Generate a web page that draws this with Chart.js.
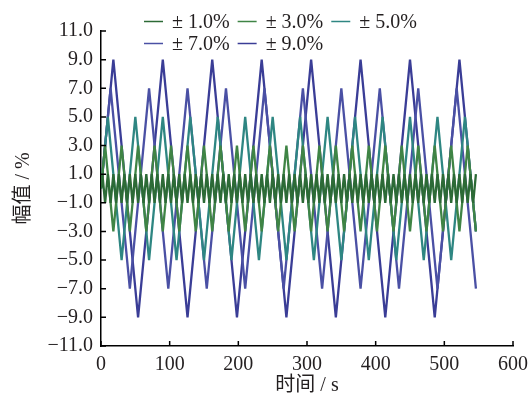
<!DOCTYPE html>
<html>
<head>
<meta charset="utf-8">
<script src="https://cdn.jsdelivr.net/npm/chart.js@4/dist/chart.umd.min.js"></script>
<style>
  html, body { margin: 0; padding: 0; background: #fff; }
</style>
</head>
<body>
<canvas id="chart" width="530" height="402"></canvas>
<script>
// series names and colours
const seriesNames = ['± 1.0%', '± 3.0%', '± 5.0%', '± 7.0%', '± 9.0%'];
const seriesColors = ['#2c6a36', '#3f8445', '#2e8682', '#4a50a4', '#3a3d96'];

// turning points of each triangle wave (time in s, amplitude in %)
const t1 = [0, 2, 6, 10, 14, 18, 22, 26, 30, 34, 38, 42, 46, 50, 54, 58, 62, 66, 70, 74, 78, 82, 86, 90, 94, 98,
  102, 106, 110, 114, 118, 122, 126, 130, 134, 138, 142, 146, 150, 154, 158, 162, 166, 170, 174, 178, 182, 186, 190, 194, 198,
  202, 206, 210, 214, 218, 222, 226, 230, 234, 238, 242, 246, 250, 254, 258, 262, 266, 270, 274, 278, 282, 286, 290, 294, 298,
  302, 306, 310, 314, 318, 322, 326, 330, 334, 338, 342, 346, 350, 354, 358, 362, 366, 370, 374, 378, 382, 386, 390, 394, 398,
  402, 406, 410, 414, 418, 422, 426, 430, 434, 438, 442, 446, 450, 454, 458, 462, 466, 470, 474, 478, 482, 486, 490, 494, 498,
  502, 506, 510, 514, 518, 522, 526, 530, 534, 538, 542, 546];
const v1 = [0, 1, -1, 1, -1, 1, -1, 1, -1, 1, -1, 1, -1, 1, -1, 1, -1, 1, -1, 1, -1, 1, -1, 1, -1, 1,
  -1, 1, -1, 1, -1, 1, -1, 1, -1, 1, -1, 1, -1, 1, -1, 1, -1, 1, -1, 1, -1, 1, -1, 1, -1,
  1, -1, 1, -1, 1, -1, 1, -1, 1, -1, 1, -1, 1, -1, 1, -1, 1, -1, 1, -1, 1, -1, 1, -1, 1,
  -1, 1, -1, 1, -1, 1, -1, 1, -1, 1, -1, 1, -1, 1, -1, 1, -1, 1, -1, 1, -1, 1, -1, 1, -1,
  1, -1, 1, -1, 1, -1, 1, -1, 1, -1, 1, -1, 1, -1, 1, -1, 1, -1, 1, -1, 1, -1, 1, -1, 1,
  -1, 1, -1, 1, -1, 1, -1, 1, -1, 1, -1, 1];

const t3 = [0, 6, 18, 30, 42, 54, 66, 78, 90, 102, 114, 126, 138, 150, 162, 174, 186, 198, 210, 222, 234, 246,
  258, 270, 282, 294, 306, 318, 330, 342, 354, 366, 378, 390, 402, 414, 426, 438, 450, 462, 474, 486, 498, 510, 522, 534, 546];
const v3 = [0, 3, -3, 3, -3, 3, -3, 3, -3, 3, -3, 3, -3, 3, -3, 3, -3, 3, -3, 3, -3, 3,
  -3, 3, -3, 3, -3, 3, -3, 3, -3, 3, -3, 3, -3, 3, -3, 3, -3, 3, -3, 3, -3, 3, -3, 3, -3];

const t5 = [0, 10, 30, 50, 70, 90, 110, 130, 150, 170, 190, 210, 230, 250, 270, 290, 310, 330, 350, 370, 390,
  410, 430, 450, 470, 490, 510, 530, 546];
const v5 = [0, 5, -5, 5, -5, 5, -5, 5, -5, 5, -5, 5, -5, 5, -5, 5, -5, 5, -5, 5, -5,
  5, -5, 5, -5, 5, -5, 5, -3];

const t7 = [0, 14, 42, 70, 98, 126, 154, 182, 210, 238, 266, 294, 322, 350, 378, 406, 434, 462, 490, 518, 546];
const v7 = [0, 7, -7, 7, -7, 7, -7, 7, -7, 7, -7, 7, -7, 7, -7, 7, -7, 7, -7, 7, -7];

const t9 = [0, 18, 54, 90, 126, 162, 198, 234, 270, 306, 342, 378, 414, 450, 486, 522, 546];
const v9 = [0, 9, -9, 9, -9, 9, -9, 9, -9, 9, -9, 9, -9, 9, -9, 9, -3];

const xTicks = [0, 100, 200, 300, 400, 500, 600];
const yTicks = [-11, -9, -7, -5, -3, -1, 1, 3, 5, 7, 9, 11];

const serif = '"Liberation Serif", "Times New Roman", "Noto Sans CJK SC", serif';
const times = [t1, t3, t5, t7, t9];
const values = [v1, v3, v5, v7, v9];

const datasets = seriesNames.map((name, i) => ({
  label: name,
  data: times[i].map((t, j) => ({ x: t, y: values[i][j] })),
  borderColor: seriesColors[i],
  borderWidth: 2.3,
  pointRadius: 0,
  tension: 0,
  fill: false
}));

// short tick marks pointing into the plot
const innerTicks = {
  id: 'innerTicks',
  afterDraw(chart) {
    const { ctx, chartArea, scales } = chart;
    ctx.save();
    ctx.strokeStyle = '#000';
    ctx.lineWidth = 1.5;
    ctx.beginPath();
    yTicks.forEach(v => {
      const y = scales.y.getPixelForValue(v);
      ctx.moveTo(chartArea.left, y);
      ctx.lineTo(chartArea.left + 5, y);
    });
    xTicks.forEach(v => {
      const x = scales.x.getPixelForValue(v);
      ctx.moveTo(x, chartArea.bottom);
      ctx.lineTo(x, chartArea.bottom - 5);
    });
    ctx.stroke();
    ctx.restore();
  }
};

// legend in two rows, upper left
const rowLegend = {
  id: 'rowLegend',
  afterDraw(chart) {
    const { ctx } = chart;
    const rows = [[0, 1, 2], [3, 4]];
    const baselines = [28, 50];
    ctx.save();
    ctx.font = '20px ' + serif;
    ctx.textBaseline = 'alphabetic';
    rows.forEach((row, r) => {
      let x = 144;
      const yb = baselines[r];
      row.forEach(i => {
        const ds = chart.data.datasets[i];
        ctx.strokeStyle = ds.borderColor;
        ctx.lineWidth = 1.5;
        ctx.beginPath();
        ctx.moveTo(x, yb - 6.5);
        ctx.lineTo(x + 19, yb - 6.5);
        ctx.stroke();
        ctx.fillStyle = '#231f20';
        ctx.fillText(ds.label, x + 28, yb);
        x += 28 + ctx.measureText(ds.label).width + 8;
      });
    });
    ctx.restore();
  }
};

new Chart(document.getElementById('chart'), {
  type: 'line',
  data: { datasets },
  options: {
    responsive: false,
    animation: false,
    layout: { padding: { left: 0, right: 17, top: 31, bottom: 0 } },
    plugins: {
      legend: { display: false },
      tooltip: { enabled: false }
    },
    scales: {
      x: {
        type: 'linear',
        min: 0,
        max: 600,
        afterBuildTicks: s => { s.ticks = xTicks.map(v => ({ value: v })); },
        afterFit: s => { s.height = 56; s.paddingRight = 0; s.paddingLeft = 0; },
        grid: { display: false, drawTicks: false },
        border: { display: true, color: '#000', width: 1.5 },
        ticks: { color: '#231f20', font: { family: serif, size: 20 }, padding: 7, maxRotation: 0 },
        title: { display: true, text: '时间 / s', color: '#231f20', font: { family: serif, size: 20 }, padding: { top: 0, bottom: 4 } }
      },
      y: {
        min: -11,
        max: 11,
        afterBuildTicks: s => { s.ticks = yTicks.map(v => ({ value: v })); },
        afterFit: s => { s.width = 101; s.paddingTop = 0; s.paddingBottom = 0; },
        grid: { display: false, drawTicks: false },
        border: { display: true, color: '#000', width: 1.5 },
        ticks: {
          color: '#231f20',
          font: { family: serif, size: 20 },
          padding: 8,
          callback: v => (v < 0 ? '\u2212' : '') + Math.abs(v).toFixed(1)
        },
        title: { display: true, text: '幅值 / %', color: '#231f20', font: { family: serif, size: 20 }, padding: { top: 12, bottom: 0 } }
      }
    }
  },
  plugins: [innerTicks, rowLegend]
});
</script>
</body>
</html>
